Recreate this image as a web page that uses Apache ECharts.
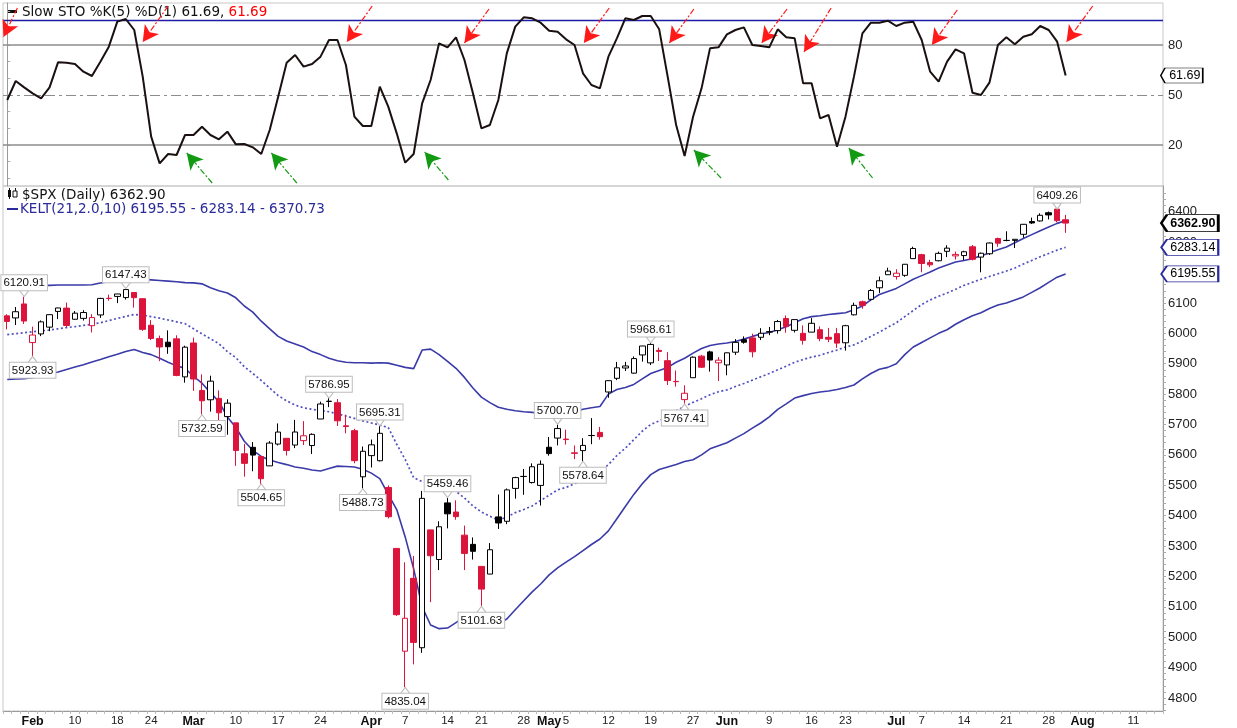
<!DOCTYPE html>
<html><head><meta charset="utf-8">
<script src="https://cdn.jsdelivr.net/npm/echarts@6/dist/echarts.min.js"></script>
<style>html,body{margin:0;padding:0;background:#fff}#c{width:1237px;height:728px}</style>
</head><body><div id="c"></div>
<script>
// ---------------- DATA ----------------
const dates = [
'2025-01-29','2025-01-30','2025-01-31',
'2025-02-03','2025-02-04','2025-02-05','2025-02-06','2025-02-07','2025-02-10','2025-02-11','2025-02-12','2025-02-13','2025-02-14','2025-02-18','2025-02-19','2025-02-20','2025-02-21','2025-02-24','2025-02-25','2025-02-26','2025-02-27','2025-02-28',
'2025-03-03','2025-03-04','2025-03-05','2025-03-06','2025-03-07','2025-03-10','2025-03-11','2025-03-12','2025-03-13','2025-03-14','2025-03-17','2025-03-18','2025-03-19','2025-03-20','2025-03-21','2025-03-24','2025-03-25','2025-03-26','2025-03-27','2025-03-28','2025-03-31',
'2025-04-01','2025-04-02','2025-04-03','2025-04-04','2025-04-07','2025-04-08','2025-04-09','2025-04-10','2025-04-11','2025-04-14','2025-04-15','2025-04-16','2025-04-17','2025-04-21','2025-04-22','2025-04-23','2025-04-24','2025-04-25','2025-04-28','2025-04-29','2025-04-30',
'2025-05-01','2025-05-02','2025-05-05','2025-05-06','2025-05-07','2025-05-08','2025-05-09','2025-05-12','2025-05-13','2025-05-14','2025-05-15','2025-05-16','2025-05-19','2025-05-20','2025-05-21','2025-05-22','2025-05-23','2025-05-27','2025-05-28','2025-05-29','2025-05-30',
'2025-06-02','2025-06-03','2025-06-04','2025-06-05','2025-06-06','2025-06-09','2025-06-10','2025-06-11','2025-06-12','2025-06-13','2025-06-16','2025-06-17','2025-06-18','2025-06-20','2025-06-23','2025-06-24','2025-06-25','2025-06-26','2025-06-27','2025-06-30',
'2025-07-01','2025-07-02','2025-07-03','2025-07-07','2025-07-08','2025-07-09','2025-07-10','2025-07-11','2025-07-14','2025-07-15','2025-07-16','2025-07-17','2025-07-18','2025-07-21','2025-07-22','2025-07-23','2025-07-24','2025-07-25','2025-07-28','2025-07-29','2025-07-30'];
const futureDates = ['2025-07-31','2025-08-01','2025-08-04','2025-08-05','2025-08-06','2025-08-07','2025-08-08','2025-08-11','2025-08-12','2025-08-13','2025-08-14'];

const priorClose = 6067.70;
const open = [6057.70,6050.75,6096.79,
5969.65,5998.14,6020.45,6072.22,6083.13,6046.40,6049.32,6025.08,6060.59,6115.52,6121.60,6117.76,6134.50,6114.10,6026.69,5982.73,5970.87,5981.88,5856.74,
5968.33,5811.98,5781.38,5785.87,5726.01,5705.37,5603.65,5624.84,5594.45,5563.85,5635.60,5654.53,5632.37,5646.92,5630.73,5718.08,5775.86,5771.66,5695.64,5679.74,5527.91,
5597.53,5580.76,5492.74,5292.14,4953.79,5193.57,4965.28,5353.15,5255.56,5441.96,5411.99,5335.75,5305.45,5232.94,5207.67,5395.92,5381.38,5489.69,5529.22,5508.87,5499.44,
5625.14,5655.32,5652.00,5605.00,5614.00,5663.50,5674.00,5807.00,5852.00,5886.00,5869.00,5929.00,5902.88,5944.00,5910.00,5841.00,5781.89,5854.00,5925.00,5939.00,5903.00,
5896.00,5938.00,5979.00,5985.00,5987.00,6004.00,6009.00,6049.00,6010.00,6000.00,6004.00,6012.00,5987.00,5999.00,5969.00,6061.00,6104.00,6112.00,6150.00,6193.00,
6187.00,6191.00,6246.00,6259.00,6233.00,6239.00,6270.00,6255.00,6256.00,6285.00,6251.00,6262.00,6312.00,6306.00,6306.00,6326.00,6368.00,6370.00,6397.00,6409.00,6374.00];
const high = [6062.83,6086.64,6120.91,
6022.13,6042.48,6062.86,6084.03,6101.28,6073.38,6076.28,6063.00,6116.91,6127.47,6129.63,6147.43,6134.50,6114.82,6043.65,5992.65,6009.82,5993.69,5959.40,
5986.09,5865.08,5860.59,5812.08,5783.01,5705.37,5636.30,5642.19,5597.78,5645.27,5703.52,5654.53,5715.33,5711.15,5670.84,5775.14,5786.95,5783.62,5732.28,5685.89,5627.56,
5650.57,5695.31,5499.53,5292.14,5246.57,5267.47,5481.34,5353.15,5381.46,5459.46,5450.41,5367.24,5328.31,5232.94,5309.60,5469.69,5489.40,5528.11,5553.66,5571.95,5581.84,
5658.91,5700.70,5683.00,5631.00,5655.00,5721.00,5692.00,5845.00,5906.00,5906.00,5924.00,5958.62,5968.61,5953.00,5938.00,5878.00,5829.00,5924.00,5929.00,5943.00,5922.00,
5937.00,5981.00,5990.00,5999.00,6017.00,6021.00,6044.00,6059.00,6045.00,6026.00,6050.00,6023.00,6018.00,6018.00,6028.00,6101.00,6108.00,6146.00,6187.00,6216.00,
6211.00,6227.00,6285.00,6262.00,6242.00,6269.00,6290.00,6269.00,6272.00,6291.00,6266.00,6299.00,6315.00,6336.00,6310.00,6360.00,6381.00,6395.00,6401.00,6409.26,6390.00];
const low = [6012.96,6027.46,6030.93,
5923.93,5990.87,6007.06,6046.83,6019.96,6044.84,6042.34,6003.00,6050.95,6107.62,6099.51,6111.15,6084.59,6008.56,5977.83,5908.49,5932.69,5858.78,5837.66,
5810.91,5732.59,5742.35,5711.64,5666.29,5564.02,5528.41,5546.09,5504.65,5563.85,5631.12,5597.76,5622.20,5632.33,5603.10,5718.08,5757.29,5695.45,5670.94,5572.42,5488.73,
5558.52,5578.49,5390.83,5069.90,4835.04,4910.42,4948.43,5115.27,5220.77,5358.02,5386.44,5220.79,5255.58,5101.63,5207.67,5356.20,5371.96,5455.86,5468.64,5505.70,5433.24,
5597.35,5631.17,5634.00,5586.00,5578.64,5635.00,5650.00,5788.00,5846.00,5876.00,5867.00,5907.00,5895.69,5909.00,5830.00,5825.00,5767.41,5854.00,5886.00,5874.00,5843.00,
5862.00,5929.00,5966.00,5921.00,5978.00,5994.00,5999.00,6002.00,6003.00,5963.00,6004.00,5974.00,5971.00,5952.00,5943.00,6059.00,6081.00,6108.00,6133.00,6193.00,
6177.00,6186.00,6246.00,6201.00,6218.00,6237.00,6251.00,6243.00,6241.00,6240.00,6201.00,6258.00,6285.00,6303.00,6281.00,6315.00,6360.00,6368.00,6375.00,6365.00,6331.00];
const close = [6039.31,6071.17,6040.53,
5994.57,6037.88,6061.48,6083.57,6025.99,6066.44,6068.50,6051.97,6115.07,6114.63,6129.58,6144.15,6117.52,6013.13,5983.25,5955.25,5956.06,5861.57,5954.50,
5849.72,5778.15,5842.63,5738.52,5770.20,5614.56,5572.07,5599.30,5521.52,5638.94,5675.12,5614.66,5675.29,5662.89,5667.56,5767.57,5776.65,5712.20,5693.31,5580.94,5611.85,
5633.07,5670.97,5396.52,5074.08,5062.25,4982.77,5456.90,5268.05,5363.36,5405.97,5396.63,5275.70,5282.70,5158.20,5287.76,5375.86,5484.77,5525.21,5528.75,5560.83,5569.06,
5604.14,5686.67,5650.38,5606.91,5631.28,5663.94,5659.91,5844.19,5886.55,5892.58,5916.93,5958.38,5963.60,5940.46,5844.61,5842.01,5802.82,5921.54,5888.55,5912.17,5911.69,
5935.94,5970.37,5970.81,5939.30,6000.36,6005.88,6038.81,6022.24,6045.26,5976.97,6033.11,5982.72,5980.87,5967.84,6025.17,6092.18,6092.16,6141.02,6173.07,6204.95,
6198.01,6227.42,6279.35,6229.98,6225.52,6263.26,6280.46,6259.75,6268.56,6243.76,6263.70,6297.36,6296.79,6305.60,6309.62,6358.91,6363.35,6388.64,6389.77,6370.86,6362.90];

const keltUpper = [6157,6157,6158,6158,6158,6158,6159,6159,
6159,6159,6160,6166,6170,6173,6176,6177,6178,6176,
6174,6172,6170,6167,6166,6163,6150,6140,6133,6117,
6090,6070,6040,6015,5990,5975,5965,5955,5940,5930,
5918,5910,5905,5903,5903,5902,5903,5902,5895,5888,
5884,5945,5948,5930,5908,5885,5855,5820,5790,5772,
5757,5750,5745,5742,5740,5733,5727,5723,5730,5743,
5750,5755,5759,5800,5815,5822,5832,5850,5868,5878,
5888,5905,5918,5935,5950,5960,5965,5968,5973,5981,
5990,5998,6003,6012,6022,6035,6048,6055,6058,6062,
6065,6068,6078,6090,6110,6128,6138,6148,6163,6178,
6190,6202,6215,6225,6235,6240,6246,6255,6265,6275,
6284,6298,6312,6325,6338,6350,6362,6370.73];
const keltMid = [5996,5999,6002,6005,6008,6011,6015,6019,
6022,6026,6030,6035,6042,6049,6056,6062,6060,6055,
6050,6044,6038,6032,6015,5998,5982,5966,5940,5920,
5890,5868,5845,5820,5795,5778,5764,5755,5750,5746,
5742,5735,5728,5720,5712,5705,5698,5690,5635,5585,
5525,5512,5505,5501,5498,5480,5458,5432,5412,5398,
5385,5395,5410,5420,5432,5450,5467,5485,5493,5505,
5518,5530,5545,5568,5598,5622,5650,5678,5700,5712,
5727,5745,5760,5773,5785,5798,5808,5814,5825,5835,
5846,5857,5868,5880,5892,5905,5914,5922,5928,5937,
5945,5955,5962,5975,5990,6004,6020,6035,6055,6075,
6095,6110,6122,6133,6145,6158,6168,6178,6187,6196,
6205,6215,6228,6240,6252,6263,6274,6283.14];
const keltLower = [5848,5850,5851,5854,5860,5867,5873,5881,
5889,5897,5906,5914,5923,5931,5940,5947,5937,5930,
5918,5905,5893,5885,5858,5836,5805,5775,5725,5690,
5645,5615,5595,5583,5575,5568,5560,5556,5550,5547,
5555,5563,5562,5560,5553,5540,5522,5470,5420,5330,
5225,5100,5040,5028,5030,5048,5066,5070,5058,5048,
5044,5060,5090,5120,5149,5175,5205,5228,5247,5265,
5285,5305,5323,5350,5390,5430,5470,5505,5535,5552,
5560,5568,5578,5584,5600,5620,5630,5640,5655,5670,
5688,5705,5725,5750,5768,5787,5795,5802,5807,5810,
5815,5822,5830,5850,5868,5882,5888,5900,5930,5955,
5970,5985,6000,6012,6030,6045,6058,6068,6082,6093,
6100,6110,6120,6135,6150,6168,6185,6195.55];

const stoch = [47,58.4,54.6,51,48,54.6,69.6,69.4,
68.6,64,61.4,70,79,94,95.6,89,61,25,
9,14.6,14,26,26,31,26,23.4,28,20.4,
20.6,18.6,14.6,29,49,69.4,74,67,68.6,73,
83,83,68,37,31.4,31.4,55,43,27,9.4,
14.6,45,59,81,78.6,84.6,71,51,30,32,
47,75,91,96.6,96,93.4,88.6,88,83.4,80,
63,56,54,73,84,96,95,97.4,97.4,89.4,
61,32,13.4,37,54,78,78.6,86.4,89,90.6,
80,79.4,78.6,89.4,84.6,84,57,57,36,38,
19,37,61,87,93.4,93.4,94.6,91.4,93.4,94,
83,64,58,70,77.4,75,51.4,50,57.4,80,
84.6,80.4,85,86.4,91.4,89,82,61.69];

const stochLevels = [20, 50, 80];
const stochUpperLine = 95;

// arrows on the oscillator, in data coordinates: [tailIndex, tailValue, tipIndex, tipValue]
const sellArrows = [[1.2,102.2,-0.45,84.8],[19.0,103.4,16.0,81.8],[43.1,103.4,40.1,81.8],[56.9,101.6,54.0,81.2],[71.1,102.2,68.1,81.2],
  [81.1,101.6,78.2,81.2],[92.1,101.6,89.1,81.2],[97.3,102.2,94.1,75.8],[112.2,101,109.2,80],[128.2,103.4,125.1,81.8]];
const buyArrows = [[24.2,-2.8,21.2,15.2],[34.2,-2.8,31.2,15.2],[52.1,-1,49.3,15.8],[84.3,0.2,81.1,17],[102.2,0.2,99.4,18.2]];

// swing high/low callouts: date, value, side
const calloutDates  = ['2025-01-31','2025-02-19','2025-02-03','2025-03-04','2025-03-13','2025-03-25','2025-04-02','2025-03-31','2025-04-14','2025-04-07','2025-04-21','2025-05-02','2025-05-07','2025-05-19','2025-05-23','2025-07-29'];
const calloutValues = [6120.91,6147.43,5923.93,5732.59,5504.65,5786.95,5695.31,5488.73,5459.46,4835.04,5101.63,5700.70,5578.64,5968.61,5767.41,6409.26];
const calloutSides  = ['high','high','low','low','low','high','high','low','high','low','low','high','low','high','low','high'];

const priceTicks = [4800,4900,5000,5100,5200,5300,5400,5500,5600,5700,5800,5900,6000,6100,6200,6300,6400];
const xTickDates = ['2025-02-03','2025-02-10','2025-02-18','2025-02-24','2025-03-03','2025-03-10','2025-03-17','2025-03-24','2025-04-01','2025-04-07','2025-04-14','2025-04-21','2025-04-28','2025-05-01','2025-05-05','2025-05-12','2025-05-19','2025-05-27','2025-06-02','2025-06-09','2025-06-16','2025-06-23','2025-07-01','2025-07-07','2025-07-14','2025-07-21','2025-07-28','2025-08-01','2025-08-11'];
const xTickTexts = ['Feb','10','18','24','Mar','10','17','24','Apr','7','14','21','28','May','5','12','19','27','Jun','9','16','23','Jul','7','14','21','28','Aug','11'];

// ---------------- CHART ----------------
const RED = '#dc143c', BLUE = '#3a3aa8', NAVY = '#2a2a9a';
const allDates = dates.concat(futureDates);
const lastIdx = allDates.length - 1;
const tickMap = {}; xTickDates.forEach((d,k)=>tickMap[d]=xTickTexts[k]);

const candleData = dates.map((d,k)=>{
  const o=open[k], c=close[k], prev = k>0 ? close[k-1] : priorClose;
  const stroke = c < prev ? RED : '#000';
  const fill = c >= o ? '#fff' : stroke;
  return {value:[o,c,low[k],high[k]], itemStyle:{color:fill,color0:fill,borderColor:stroke,borderColor0:stroke,borderColorDoji:stroke,borderWidth:1}};
});

const labelFont = 'Liberation Sans';
const calloutPoints = calloutDates.map((d,k)=>{
  const up = calloutSides[k]==='high';
  return {
    coord:[d, calloutValues[k]], value: calloutValues[k],
    symbol: up ? 'path://M0,0 L10,0 L5,6 Z' : 'path://M5,0 L10,6 L0,6 Z',
    symbolSize:[9,6], symbolOffset:[0, up ? -3 : 3],
    itemStyle:{color:'#fff', borderColor:'#bdbdbd', borderWidth:1},
    label:{show:true, position: up ? 'top' : 'bottom', distance:0,
      formatter: p=>p.value.toFixed(2), color:'#111', fontSize:11.5, fontFamily:labelFont,
      backgroundColor:'#fff', borderColor:'#bdbdbd', borderWidth:1, padding:[2,2,1,2]}
  };
});

function tag(coord, text, w, h, off, border, bw, bold){
  return {coord:coord, value:text,
    symbol:'path://M0,8 L6,0 L60,0 L60,16 L6,16 Z', symbolKeepAspect:false,
    symbolSize:[w,h], symbolOffset:[off,0],
    itemStyle:{color:'#fff', borderColor:border, borderWidth:bw},
    label:{show:true, position:'inside', offset:[3,0], formatter:text, color:'#000',
      fontSize:12.5, fontWeight: bold?'bold':'normal', fontFamily:labelFont}};
}

const arrowLine = (a, color) => [
  {coord:[a[0],a[1]], symbol:'none', lineStyle:{color:color,width:1.2,type:[6,2,2,2]}},
  {coord:[a[2],a[3]], symbol:'arrow', symbolSize:[13,16], lineStyle:{color:color,width:1.2,type:[6,2,2,2]}, itemStyle:{color:color}}
];

const chart = echarts.init(document.getElementById('c'), null, {renderer:'canvas'});
chart.setOption({
  animation:false,
  backgroundColor:'#fff',
  grid:[
    {left:3, right:74, top:3, height:183, show:true, borderColor:'#c8c8c8', borderWidth:1},
    {left:3, right:74, top:186, bottom:16, show:true, borderColor:'#c8c8c8', borderWidth:1}
  ],
  xAxis:[
    {type:'value', gridIndex:0, min:-0.5, max:lastIdx+0.5, show:false},
    {type:'category', gridIndex:1, data:allDates, boundaryGap:true,
      axisLine:{lineStyle:{color:'#9a9a9a'}},
      axisTick:{show:true, interval:0, length:3, lineStyle:{color:'#bbb'}},
      axisLabel:{interval:(i,v)=>tickMap[v]!==undefined, margin:4,
        formatter:v=>{const t=tickMap[v]; return /^[A-Z]/.test(t) ? '{m|'+t+'}' : '{n|'+t+'}';},
        rich:{m:{fontWeight:'bold',fontSize:12.5,fontFamily:labelFont,color:'#111'},
              n:{fontSize:11.5,fontFamily:labelFont,color:'#222'}}},
      splitLine:{show:false}}
  ],
  yAxis:[
    {type:'value', gridIndex:0, position:'right', min:-4.6, max:105.2,
      axisLine:{show:true, lineStyle:{color:'#9a9a9a'}},
      axisTick:{show:true, length:3, lineStyle:{color:'#aaa'}, customValues:[0,10,20,30,40,50,60,70,80,90,100]},
      axisLabel:{customValues:stochLevels, fontSize:13, fontFamily:labelFont, color:'#222', margin:5, formatter:v=>String(v)},
      splitLine:{show:false}},
    {type:'value', gridIndex:1, position:'right', min:4757, max:6485,
      axisLine:{show:true, lineStyle:{color:'#9a9a9a'}},
      axisTick:{show:true, length:3, lineStyle:{color:'#aaa'},
        customValues: Array.from({length:86},(_,k)=>4760+k*20)},
      axisLabel:{customValues:priceTicks, fontSize:13, fontFamily:labelFont, color:'#222', margin:5, formatter:v=>String(v)},
      splitLine:{show:false}}
  ],
  series:[
    {type:'line', name:'STO', xAxisIndex:0, yAxisIndex:0, data:stoch.map((v,k)=>[k,v]),
      symbol:'none', clip:false, z:5, lineStyle:{color:'#1a1010', width:2},
      markLine:{silent:true, symbol:['none','none'], label:{show:false}, animation:false,
        data:[
          {yAxis:stochLevels[2], lineStyle:{color:'#8c8c8c', width:1.5, type:'solid'}},
          {yAxis:stochLevels[0], lineStyle:{color:'#8c8c8c', width:1.5, type:'solid'}},
          {yAxis:stochLevels[1], lineStyle:{color:'#8c8c8c', width:1.2, type:[10,4,3,4]}},
          {yAxis:stochUpperLine, lineStyle:{color:'#1c1ca8', width:1.3, type:'solid'}}
        ].concat(sellArrows.map(a=>arrowLine(a,'#ff1a1a')), buyArrows.map(a=>arrowLine(a,'#139a13')))},
      markPoint:{silent:true, animation:false, data:[tag([lastIdx, stoch[stoch.length-1]], stoch[stoch.length-1].toFixed(2), 42, 15, 23, '#000', 1, false)]}
    },
    {type:'line', name:'KELT upper', xAxisIndex:1, yAxisIndex:1, data:keltUpper, symbol:'none', clip:false,
      lineStyle:{color:BLUE, width:1.6}, z:3},
    {type:'line', name:'KELT mid', xAxisIndex:1, yAxisIndex:1, data:keltMid, symbol:'none', clip:false,
      lineStyle:{color:'#5050c0', width:1.7, type:[2,2.5]}, z:3,
      markPoint:{silent:true, animation:false, data:[tag([allDates[lastIdx], keltMid[keltMid.length-1]], keltMid[keltMid.length-1].toFixed(2), 57, 16, 31, NAVY, 1.2, false)]}},
    {type:'line', name:'KELT lower', xAxisIndex:1, yAxisIndex:1, data:keltLower, symbol:'none', clip:false,
      lineStyle:{color:BLUE, width:1.6}, z:3,
      markPoint:{silent:true, animation:false, data:[tag([allDates[lastIdx], keltLower[keltLower.length-1]], keltLower[keltLower.length-1].toFixed(2), 57, 16, 31, NAVY, 1.2, false)]}},
    {type:'candlestick', name:'$SPX', xAxisIndex:1, yAxisIndex:1, data:candleData, barWidth:6, clip:false, z:4,
      markPoint:{silent:true, animation:false,
        data: calloutPoints.concat([tag([allDates[lastIdx], close[close.length-1]], close[close.length-1].toFixed(2), 57, 17, 31, '#000', 1.6, true)])}}
  ],
  graphic:[
    {type:'rect', x:7, y:10, shape:{width:10,height:3}, style:{fill:'#111'}},
    {type:'text', x:22, y:12, style:{text:'{a|Slow STO %K(5) %D(1) '+stoch[stoch.length-1].toFixed(2)+', }{b|'+stoch[stoch.length-1].toFixed(2)+'}',
      verticalAlign:'middle', rich:{a:{fontFamily:'DejaVu Sans',fontSize:13.5,fill:'#111'},b:{fontFamily:'DejaVu Sans',fontSize:13.5,fill:'#ff0000'}}}},
    {type:'rect', x:8, y:190, shape:{width:3,height:7}, style:{fill:'#111'}},
    {type:'rect', x:9, y:188, shape:{width:1,height:11}, style:{fill:'#111'}},
    {type:'rect', x:13, y:191, shape:{width:4,height:6}, style:{fill:'#fff', stroke:'#111', lineWidth:1}},
    {type:'rect', x:15, y:188, shape:{width:1,height:3}, style:{fill:'#111'}},
    {type:'text', x:22, y:195, style:{text:'$SPX (Daily) '+close[close.length-1].toFixed(2), verticalAlign:'middle', fontFamily:'DejaVu Sans', fontSize:13.5, fill:'#111'}},
    {type:'rect', x:7, y:208, shape:{width:11,height:2}, style:{fill:NAVY}},
    {type:'text', x:20, y:209, style:{text:'KELT(21,2.0,10) '+keltLower[keltLower.length-1].toFixed(2)+' - '+keltMid[keltMid.length-1].toFixed(2)+' - '+keltUpper[keltUpper.length-1].toFixed(2),
      verticalAlign:'middle', fontFamily:'DejaVu Sans', fontSize:13.5, fill:NAVY}}
  ]
});
</script></body></html>
